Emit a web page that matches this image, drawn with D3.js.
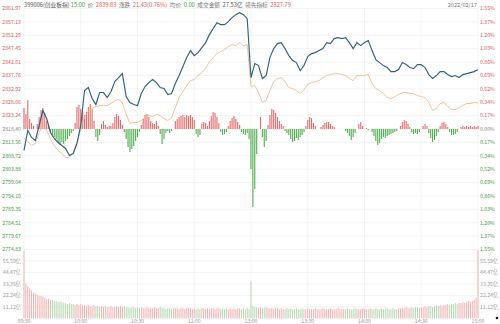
<!DOCTYPE html>
<html><head><meta charset="utf-8">
<script src="https://cdn.jsdelivr.net/npm/d3@7"></script>
<style>html,body{margin:0;padding:0;background:#fff;}svg{display:block;}text{font-family:"Noto Sans CJK SC","Noto Sans",sans-serif;}</style>
</head><body>
<div id="chart"></div>
<script>
// ---------- data ----------
const timeLabels = ["09:30","10:00","10:30","11:00","13:00","13:30","14:00","14:30","15:00"];
const timeTickMinutes = [0,30,60,90,120,150,180,210,240];
const prevClose = 2818.40;
const priceTicks = [2861.97,2857.13,2852.29,2847.45,2842.61,2837.76,2832.92,2828.08,2823.24,2818.40,2813.56,2808.72,2803.88,2799.04,2794.19,2789.35,2784.51,2779.67,2774.83];
const pctTicks = ["1.55%","1.37%","1.20%","1.03%","0.86%","0.69%","0.52%","0.34%","0.17%","0.00%","0.17%","0.34%","0.52%","0.69%","0.86%","1.03%","1.20%","1.37%","1.55%"];
const volTicks = [55.59,44.47,33.35,22.24,11.12];
const volTickLabels = ["55.59亿","44.47亿","33.35亿","22.24亿","11.12亿"];
const volMax = 66.71;
const strengthMax = 120.5;

// price every 2 minutes (index i -> minute 2*i)
const price = [2810.64,2817.86,2815.33,2814.25,2819.66,2825.08,2822.19,2817.14,2814.97,2813.53,
2812.44,2811.36,2808.83,2809.55,2813.16,2819.66,2832.30,2833.39,2829.41,2827.25,
2831.58,2831.58,2829.77,2831.94,2835.55,2837.00,2838.44,2830.14,2827.97,2827.25,
2826.89,2831.22,2833.75,2835.19,2836.27,2835.19,2833.39,2833.02,2830.86,2831.22,
2834.83,2837.72,2840.97,2844.22,2846.75,2844.94,2846.02,2847.83,2849.64,2852.52,
2854.69,2856.86,2856.14,2856.14,2857.22,2858.66,2859.75,2860.47,2859.75,2858.30,
2837.00,2842.05,2841.33,2836.64,2837.72,2844.22,2847.47,2849.27,2849.64,2847.47,
2844.94,2843.14,2842.41,2839.52,2841.33,2844.58,2845.66,2846.02,2846.75,2847.47,
2849.64,2849.27,2851.08,2851.44,2851.08,2851.44,2849.64,2847.47,2849.64,2848.55,
2849.64,2850.36,2846.75,2843.50,2842.41,2841.33,2840.61,2839.16,2839.16,2839.89,
2842.41,2841.69,2840.61,2840.25,2841.69,2841.69,2840.61,2838.08,2836.64,2837.72,
2839.16,2839.16,2838.08,2837.36,2837.72,2837.00,2838.08,2838.44,2838.80,2839.16,
2839.83];
const leadLine = [2815.33,2813.89,2812.44,2813.16,2817.14,2819.66,2817.86,2814.61,2812.44,2810.64,
2809.55,2808.11,2808.11,2809.91,2813.89,2818.22,2822.91,2824.72,2825.80,2826.52,
2826.89,2826.89,2826.89,2827.61,2828.69,2829.05,2827.97,2823.64,2820.39,2820.75,
2820.75,2821.47,2822.55,2823.27,2822.91,2823.64,2823.27,2822.19,2821.47,2822.55,
2826.16,2829.77,2831.94,2834.11,2835.91,2836.27,2837.72,2838.80,2840.25,2842.77,
2844.22,2845.66,2846.38,2847.11,2848.19,2848.91,2848.55,2849.64,2848.55,2848.91,
2833.75,2834.11,2831.58,2827.97,2828.69,2832.30,2835.55,2836.64,2837.00,2835.55,
2833.39,2833.02,2832.30,2831.22,2832.66,2834.47,2835.19,2835.55,2835.91,2837.00,
2837.72,2838.08,2838.44,2838.44,2838.08,2837.72,2836.64,2835.91,2837.72,2837.72,
2837.72,2838.08,2834.83,2833.02,2832.30,2831.22,2829.77,2829.41,2830.14,2830.86,
2831.58,2831.58,2831.22,2831.22,2830.50,2830.14,2829.77,2827.97,2825.08,2825.80,
2827.61,2827.97,2826.52,2825.44,2825.44,2826.16,2826.89,2827.61,2827.61,2827.97,
2827.79];
// per-minute strength bars (minute 0..240)
const strength = [21,15,29,10,6,3,0,5,12,19,21,16,8,3,-3,-6,-8,-10,-14,-16,
-13,-15,-12,-10,-7,-4,-2,6,22,24,20,18,14,17,22,25,20,8,-8,-12,
-6,5,8,4,2,3,3,6,12,15,13,9,4,-3,-10,-18,-23,-20,-17,-12,
-8,-3,4,10,14,15,12,8,6,5,8,3,-5,-15,-10,-4,-2,-4,-2,0,
8,10,12,13,14,12,14,13,14,12,9,-5,-8,-6,5,7,6,3,8,13,
17,16,12,6,-3,-6,-5,-3,3,8,11,13,10,7,4,-3,-5,-6,-4,-10,
-40,-78,-60,-25,0,12,-8,-18,-12,4,14,20,19,16,12,8,5,3,-2,-4,
-6,-10,-13,-12,-9,-11,-8,-6,-3,3,9,12,11,6,3,0,0,2,4,6,
7,7,5,3,2,0,0,0,0,0,-2,-4,-7,-11,-8,-4,0,5,7,3,
0,1,-1,0,-3,-7,-12,-16,-14,-10,-8,-9,-7,-6,-5,-4,-3,-2,0,3,
7,9,8,5,2,-3,-5,-4,-5,-3,0,3,5,3,-4,-9,-13,-11,-7,-3,
3,6,7,5,2,-3,-6,-6,-5,-3,0,2,3,2,3,2,3,2,3,2,3];
// per-minute turnover (亿)
const volume = [66,34,31,29,27,25,24,23,22,22,
21,20,19,19,18,18,17,17,16,16,
16,15,15,14,15,14,14,13,14,13,
14,13,13,12,13,12,12,13,12,12,
11,12,11,12,11,11,12,11,11,12,
11,12,11,12,11,11,10,11,11,10,
11,10,11,10,10,11,10,10,10,11,
10,10,11,10,10,9,10,10,9,10,
10,10,9,10,10,9,10,10,10,9,
10,9,10,9,10,10,9,10,9,10,
10,9,10,10,9,10,9,10,9,10,
9,10,9,10,10,9,10,9,10,9,
36,12,11,11,10,11,10,10,11,10,
10,10,9,10,10,9,10,9,9,10,
9,10,9,9,10,9,9,10,9,9,
10,9,9,9,10,9,9,9,10,9,
9,9,10,9,9,9,10,9,9,9,
9,10,9,9,9,10,9,9,9,10,
9,9,9,10,9,9,10,9,9,10,
9,9,10,9,9,10,9,9,10,10,
10,10,11,10,10,11,10,11,11,10,
11,11,12,11,12,12,11,12,13,12,
13,12,13,13,14,13,14,14,15,14,
15,15,16,15,16,17,16,17,18,20,
66];

// ---------- drawing ----------
const W = 500, H = 324;
const RED = "#e4585a", GREEN = "#3f9a3f", GRAY = "#888";
const svg = d3.select("#chart").append("svg").attr("width", W).attr("height", H);

const x = d3.scaleLinear().domain([0, 240]).range([24, 478]);
const yP = d3.scaleLinear().domain([priceTicks[priceTicks.length-1], priceTicks[0]]).range([249.5, 8.5]);
const yS = d3.scaleLinear().domain([-strengthMax, strengthMax]).range([249.5, 8.5]);
const yV = d3.scaleLinear().domain([0, volMax]).range([318.5, 249.5]);

const grid = svg.append("g").attr("stroke", "#ececec").attr("stroke-width", 0.6);
priceTicks.forEach(p => grid.append("line").attr("x1", x(0)).attr("x2", x(240)).attr("y1", yP(p)).attr("y2", yP(p)));
volTicks.forEach(v => grid.append("line").attr("x1", x(0)).attr("x2", x(240)).attr("y1", yV(v)).attr("y2", yV(v)));
timeTickMinutes.forEach(t => grid.append("line").attr("x1", x(t)).attr("x2", x(t)).attr("y1", yP(priceTicks[0])).attr("y2", yV(0)));

// strength bars
svg.append("g").selectAll("rect").data(strength).join("rect")
  .attr("x", (d,i) => x(i) - 0.55).attr("width", 1.1)
  .attr("y", d => Math.min(yS(d), yS(0))).attr("height", d => Math.abs(yS(d) - yS(0)))
  .attr("fill", d => d >= 0 ? "#e36a6a" : "#4fae4f");

// volume bars
svg.append("g").selectAll("rect").data(volume).join("rect")
  .attr("x", (d,i) => x(i) - 0.5).attr("width", 1)
  .attr("y", d => yV(d)).attr("height", d => yV(0) - yV(d))
  .attr("fill", (d,i) => strength[i] >= 0 ? "#f2b3b3" : "#b9d7b3");

// lines
const line = d3.line().x((d,i) => x(i*2)).y(d => yP(d));
svg.append("path").datum(leadLine).attr("d", line).attr("fill", "none").attr("stroke", "#f4b585").attr("stroke-width", 0.85);
svg.append("path").datum(price).attr("d", line).attr("fill", "none").attr("stroke", "#2d6282").attr("stroke-width", 1.15);

// axis labels
const fs = 5.2;
const colorFor = p => p > prevClose ? RED : (p < prevClose ? GREEN : GRAY);
svg.append("g").selectAll("text").data(priceTicks).join("text")
  .attr("x", 21).attr("y", d => yP(d)).attr("dy", "0.35em").attr("text-anchor", "end")
  .attr("font-size", fs).attr("fill", d => colorFor(d)).text(d => d.toFixed(2));
svg.append("g").selectAll("text").data(pctTicks).join("text")
  .attr("x", 480).attr("y", (d,i) => yP(priceTicks[i])).attr("dy", "0.35em")
  .attr("font-size", fs).attr("fill", (d,i) => colorFor(priceTicks[i])).text(d => d);
svg.append("g").selectAll("text").data(volTicks).join("text")
  .attr("x", 21).attr("y", d => yV(d)).attr("dy", "0.35em").attr("text-anchor", "end")
  .attr("font-size", fs).attr("fill", "#999").text((d,i) => volTickLabels[i]);
svg.append("g").selectAll("text").data(volTicks).join("text")
  .attr("x", 480).attr("y", d => yV(d)).attr("dy", "0.35em")
  .attr("font-size", fs).attr("fill", "#999").text((d,i) => volTickLabels[i]);
svg.append("g").selectAll("text").data(timeLabels).join("text")
  .attr("x", (d,i) => x(timeTickMinutes[i])).attr("y", 323).attr("text-anchor", "middle")
  .attr("font-size", fs).attr("fill", "#999").text(d => d);

// header
const header = [
  ["399006(创业板指)", "#555"], [" 15:00", GREEN], ["  价  ", "#777"], ["2839.83", RED],
  ["  涨跌  ", "#777"], ["21.43(0.76%)", RED], ["  均价  ", "#777"], ["0.00", GREEN],
  ["  成交金额  ", "#777"], ["27.53亿", "#555"], ["  领先指标  ", "#777"], ["2827.79", RED]
];
const ht = svg.append("text").attr("x", 24).attr("y", 7).attr("font-size", 5.7).attr("xml:space", "preserve");
header.forEach(h => ht.append("tspan").attr("fill", h[1]).text(h[0]));
svg.append("text").attr("x", 477).attr("y", 7).attr("text-anchor", "end").attr("font-size", 5.6).attr("fill", "#777").text("2022/02/17");
svg.append("circle").attr("cx", 497).attr("cy", 318).attr("r", 1.3).attr("fill", "#111");
</script>
</body></html>
